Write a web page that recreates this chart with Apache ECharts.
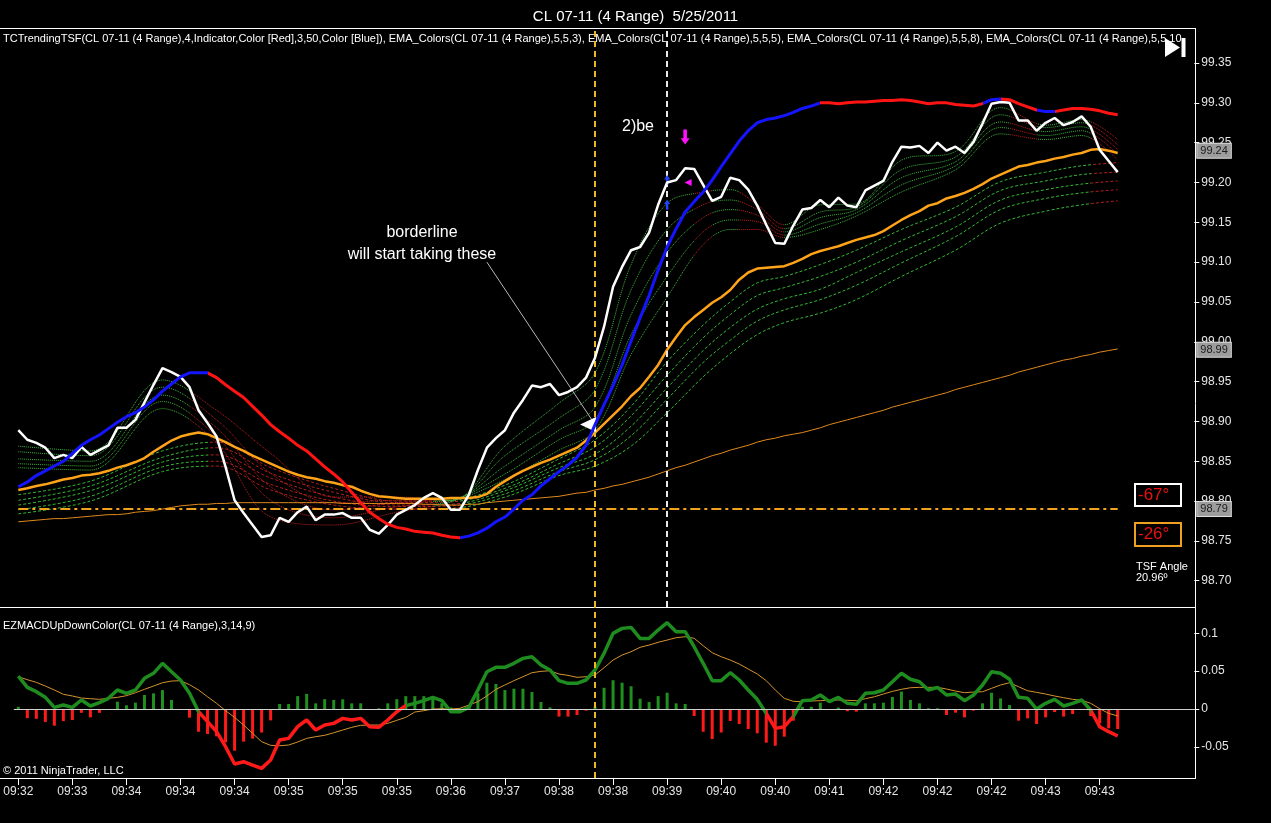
<!DOCTYPE html>
<html><head><meta charset="utf-8">
<script src="https://cdn.jsdelivr.net/npm/echarts/dist/echarts.min.js"></script>
<style>html,body{margin:0;padding:0;background:#000;}#c{width:1271px;height:823px;}</style>
</head><body><div id="c"></div>
<script>
const chartTitle = 'CL 07-11 (4 Range)  5/25/2011';
const priceLegend = 'TCTrendingTSF(CL 07-11 (4 Range),4,Indicator,Color [Red],3,50,Color [Blue]), EMA_Colors(CL 07-11 (4 Range),5,5,3), EMA_Colors(CL 07-11 (4 Range),5,5,5), EMA_Colors(CL 07-11 (4 Range),5,5,8), EMA_Colors(CL 07-11 (4 Range),5,5,10';
const macdLegend = 'EZMACDUpDownColor(CL 07-11 (4 Range),3,14,9)';
const copyright = '\u00a9 2011 NinjaTrader, LLC';
const timeLabels = ['09:32','09:33','09:34','09:34','09:34','09:35','09:35','09:35','09:36','09:37','09:38','09:38','09:39','09:40','09:40','09:41','09:42','09:42','09:42','09:43','09:43'];
const labelEvery = 6;

const closeData = [98.889,98.877,98.873,98.867,98.854,98.858,98.854,98.868,98.858,98.864,
98.870,98.892,98.892,98.902,98.924,98.946,98.967,98.962,98.956,98.943,
98.914,98.898,98.881,98.843,98.801,98.785,98.770,98.755,98.757,98.779,
98.774,98.786,98.793,98.776,98.783,98.783,98.785,98.779,98.779,98.764,
98.759,98.770,98.783,98.789,98.795,98.804,98.810,98.804,98.789,98.789,
98.808,98.839,98.867,98.879,98.889,98.911,98.927,98.945,98.943,98.947,
98.933,98.937,98.943,98.955,98.980,99.019,99.069,99.094,99.115,99.119,
99.137,99.172,99.200,99.203,99.218,99.217,99.197,99.177,99.182,99.206,
99.203,99.191,99.171,99.147,99.124,99.123,99.146,99.166,99.168,99.178,
99.169,99.181,99.171,99.169,99.190,99.196,99.202,99.226,99.245,99.244,
99.246,99.237,99.250,99.240,99.245,99.237,99.251,99.274,99.299,99.301,
99.300,99.278,99.278,99.265,99.275,99.281,99.272,99.276,99.283,99.270,
99.241,99.227,99.213];

const tsfData = [98.818,98.824,98.832,98.838,98.844,98.850,98.860,98.870,98.877,98.883,
98.891,98.899,98.906,98.911,98.918,98.927,98.938,98.947,98.956,98.961,
98.961,98.961,98.955,98.946,98.938,98.930,98.919,98.908,98.896,98.887,
98.879,98.870,98.863,98.853,98.843,98.834,98.824,98.811,98.798,98.786,
98.778,98.771,98.767,98.765,98.762,98.761,98.760,98.757,98.755,98.754,
98.756,98.760,98.766,98.774,98.780,98.790,98.801,98.808,98.819,98.828,
98.837,98.845,98.855,98.870,98.896,98.921,98.945,98.971,99.001,99.030,
99.058,99.090,99.119,99.142,99.163,99.176,99.188,99.203,99.220,99.236,
99.252,99.265,99.275,99.279,99.281,99.284,99.288,99.293,99.296,99.300,
99.300,99.299,99.300,99.301,99.301,99.302,99.303,99.303,99.304,99.303,
99.301,99.299,99.300,99.300,99.298,99.297,99.296,99.299,99.304,99.305,
99.304,99.299,99.295,99.291,99.289,99.289,99.291,99.293,99.293,99.292,
99.290,99.287,99.285];
const tsfDownRanges = [[21,49],[89,107],[109,113],[115,122]];

const orangeEma = [98.814,98.816,98.819,98.821,98.824,98.827,98.829,98.832,98.833,98.835,
98.838,98.842,98.845,98.849,98.854,98.862,98.869,98.876,98.881,98.884,
98.886,98.884,98.879,98.874,98.868,98.863,98.857,98.852,98.847,98.842,
98.837,98.833,98.830,98.828,98.825,98.823,98.820,98.818,98.813,98.809,
98.806,98.805,98.804,98.803,98.803,98.803,98.803,98.803,98.804,98.804,
98.804,98.805,98.809,98.818,98.825,98.832,98.838,98.843,98.848,98.852,
98.857,98.862,98.867,98.876,98.886,98.897,98.908,98.919,98.932,98.942,
98.956,98.971,98.990,99.006,99.021,99.031,99.040,99.049,99.056,99.065,
99.078,99.087,99.092,99.093,99.094,99.095,99.099,99.104,99.110,99.114,
99.117,99.120,99.124,99.128,99.131,99.134,99.139,99.146,99.153,99.159,
99.164,99.171,99.174,99.180,99.183,99.187,99.192,99.198,99.205,99.210,
99.215,99.220,99.222,99.225,99.227,99.230,99.232,99.235,99.237,99.241,
99.242,99.240,99.237];

const longEma = [98.774,98.775,98.776,98.777,98.778,98.778,98.779,98.780,98.781,98.782,
98.783,98.783,98.784,98.786,98.787,98.788,98.790,98.792,98.794,98.795,
98.796,98.796,98.797,98.797,98.798,98.798,98.798,98.798,98.798,98.798,
98.798,98.798,98.798,98.798,98.798,98.798,98.797,98.797,98.797,98.797,
98.797,98.797,98.797,98.797,98.797,98.796,98.796,98.795,98.795,98.795,
98.796,98.796,98.798,98.799,98.800,98.801,98.802,98.803,98.804,98.805,
98.806,98.808,98.810,98.811,98.814,98.816,98.819,98.821,98.824,98.827,
98.830,98.834,98.838,98.842,98.845,98.849,98.853,98.857,98.860,98.864,
98.867,98.870,98.874,98.877,98.879,98.882,98.884,98.886,98.889,98.892,
98.896,98.899,98.902,98.905,98.908,98.911,98.914,98.918,98.921,98.924,
98.927,98.930,98.933,98.936,98.940,98.943,98.946,98.949,98.952,98.955,
98.958,98.962,98.965,98.968,98.971,98.974,98.977,98.979,98.982,98.984,
98.987,98.989,98.991];

const hLineLevel = 98.79;

// EMA ribbons, read at these bars
const ribbonBars = [0,8,16,22,28,35,42,48,54,60,64,68,72,76,79,82,85,89,93,98,104,109,114,118,122];
const fastEma1 = [98.869,98.863,98.952,98.914,98.860,98.805,98.805,98.801,98.869,98.923,98.961,99.097,99.174,99.188,99.191,99.172,99.147,99.172,99.173,99.228,99.239,99.294,99.272,99.279,99.254];
const fastEma2 = [98.862,98.857,98.943,98.902,98.835,98.798,98.801,98.801,98.857,98.904,98.940,99.065,99.141,99.172,99.178,99.166,99.142,99.163,99.169,99.216,99.232,99.285,99.269,99.275,99.247];
const fastEma3 = [98.853,98.850,98.933,98.892,98.818,98.789,98.798,98.801,98.844,98.889,98.918,99.034,99.112,99.156,99.166,99.159,99.138,99.156,99.166,99.206,99.226,99.276,99.264,99.270,99.241];
const fastEma4 = [98.847,98.844,98.925,98.881,98.801,98.779,98.793,98.800,98.834,98.877,98.902,99.009,99.082,99.138,99.153,99.151,99.134,99.148,99.162,99.197,99.221,99.269,99.259,99.265,99.235];
const fastEma5 = [98.842,98.839,98.916,98.873,98.780,98.770,98.786,98.799,98.827,98.864,98.889,98.984,99.056,99.122,99.141,99.141,99.131,99.141,99.158,99.188,99.216,99.261,99.254,99.259,99.228];
const slowEma1 = [98.808,98.825,98.863,98.874,98.842,98.816,98.800,98.801,98.820,98.853,98.877,98.919,98.975,99.021,99.050,99.074,99.082,99.097,99.115,99.141,99.169,99.201,99.213,99.221,99.225];
const slowEma2 = [98.801,98.819,98.855,98.867,98.835,98.811,98.798,98.799,98.816,98.847,98.868,98.907,98.958,99.005,99.034,99.058,99.068,99.082,99.100,99.127,99.157,99.190,99.202,99.210,99.213];
const slowEma3 = [98.795,98.813,98.849,98.858,98.829,98.805,98.795,98.796,98.813,98.842,98.859,98.894,98.942,98.989,99.018,99.041,99.054,99.066,99.087,99.113,99.144,99.178,99.191,99.198,99.202];
const slowEma4 = [98.789,98.806,98.843,98.850,98.821,98.800,98.793,98.794,98.809,98.837,98.852,98.882,98.928,98.974,99.002,99.026,99.040,99.053,99.071,99.099,99.132,99.166,99.180,99.187,99.191];
const slowEma5 = [98.784,98.800,98.837,98.844,98.814,98.795,98.790,98.791,98.805,98.832,98.844,98.869,98.911,98.956,98.985,99.009,99.024,99.036,99.053,99.082,99.115,99.149,99.164,99.172,99.177];
const fastFallRanges = [[19,46],[75,77],[80,85],[110,113],[119,122]];
const slowFallRanges = [[21,49],[119,122]];

const macdData = [0.0435,0.0286,0.0229,0.0154,0.0022,0.0053,0.0022,0.0119,0.0040,0.0084,
0.0141,0.0251,0.0207,0.0251,0.0405,0.0471,0.0603,0.0492,0.0383,0.0207,
-0.0035,-0.0167,-0.0299,-0.0497,-0.0726,-0.0695,-0.0739,-0.0783,-0.0673,-0.0409,
-0.0387,-0.0233,-0.0145,-0.0277,-0.0211,-0.0189,-0.0123,-0.0145,-0.0123,-0.0233,
-0.0242,-0.0145,-0.0035,0.0045,0.0075,0.0110,0.0154,0.0110,-0.0035,-0.0035,
0.0022,0.0251,0.0492,0.0550,0.0550,0.0603,0.0668,0.0690,0.0580,0.0515,
0.0374,0.0339,0.0339,0.0383,0.0515,0.0734,0.0998,0.1064,0.1077,0.0932,
0.0932,0.1042,0.1139,0.1020,0.1020,0.0822,0.0603,0.0374,0.0374,0.0479,
0.0383,0.0251,0.0128,-0.0057,-0.0255,-0.0233,-0.0101,0.0110,0.0119,0.0185,
0.0097,0.0154,0.0075,0.0062,0.0207,0.0215,0.0251,0.0360,0.0471,0.0392,
0.0360,0.0251,0.0286,0.0185,0.0198,0.0110,0.0185,0.0317,0.0492,0.0471,
0.0392,0.0154,0.0141,0.0000,0.0075,0.0128,0.0040,0.0075,0.0119,-0.0013,
-0.0233,-0.0299,-0.0356];
const macdDownRanges = [[20,43],[83,86],[119,122]];

const signalData = [0.0426,0.0387,0.0352,0.0303,0.0251,0.0194,0.0172,0.0145,0.0136,0.0128,
0.0141,0.0154,0.0176,0.0215,0.0260,0.0303,0.0347,0.0369,0.0374,0.0321,
0.0251,0.0162,0.0075,-0.0022,-0.0110,-0.0211,-0.0321,-0.0431,-0.0479,-0.0484,
-0.0475,-0.0435,-0.0387,-0.0365,-0.0347,-0.0313,-0.0277,-0.0242,-0.0215,-0.0211,
-0.0211,-0.0189,-0.0149,-0.0110,-0.0040,-0.0022,0.0000,0.0004,0.0000,0.0009,
0.0053,0.0097,0.0172,0.0260,0.0317,0.0374,0.0426,0.0479,0.0497,0.0505,
0.0462,0.0444,0.0418,0.0426,0.0449,0.0545,0.0646,0.0712,0.0756,0.0814,
0.0844,0.0880,0.0910,0.0941,0.0954,0.0933,0.0835,0.0743,0.0690,0.0646,
0.0594,0.0528,0.0462,0.0374,0.0251,0.0141,0.0102,0.0097,0.0106,0.0110,
0.0115,0.0119,0.0115,0.0110,0.0136,0.0162,0.0198,0.0233,0.0260,0.0281,
0.0286,0.0286,0.0286,0.0264,0.0237,0.0215,0.0224,0.0228,0.0273,0.0317,
0.0347,0.0294,0.0241,0.0220,0.0198,0.0172,0.0149,0.0128,0.0115,0.0075,
0.0004,-0.0057,-0.0092];

const histData = [0.003,-0.012,-0.013,-0.017,-0.022,-0.016,-0.0145,-0.005,-0.011,-0.005,
0.000,0.0097,0.005,0.0084,0.0185,0.0207,0.025,0.012,0.000,-0.0114,
-0.030,-0.033,-0.036,-0.044,-0.055,-0.043,-0.039,-0.031,-0.015,0.0066,
0.0066,0.017,0.020,0.0075,0.013,0.012,0.0128,0.0075,0.0075,0.000,
0.001,0.0075,0.013,0.017,0.017,0.017,0.0154,0.0075,0.002,0.001,
0.005,0.0207,0.0347,0.033,0.025,0.0268,0.0268,0.0224,0.0092,0.0022,
-0.010,-0.010,-0.0079,-0.0022,0.003,0.028,0.038,0.0347,0.030,0.0136,
0.0092,0.017,0.0215,0.0075,0.0066,-0.0092,-0.030,-0.0396,-0.031,-0.0158,
-0.0198,-0.0264,-0.032,-0.0444,-0.0484,-0.0365,-0.0154,0.003,0.003,0.0084,
0.000,0.002,-0.003,-0.0035,0.0075,0.0075,0.0084,0.016,0.023,0.012,
0.0075,0.001,0.001,-0.0079,-0.0048,-0.011,-0.0022,0.0075,0.0215,0.014,
0.0053,-0.0154,-0.0123,-0.0198,-0.011,-0.004,-0.010,-0.0066,0.000,-0.0092,
-0.019,-0.0255,-0.0264];

// marked bars
const signalBar = 64;   // yellow vertical
const entryBar = 72;    // white vertical

// ---------------- build ----------------
const N_SLOTS = 131;
const cats = Array.from({length: N_SLOTS}, (_, i) => String(i));
const showIdx = (i) => i % labelEvery === 0 && i / labelEvery < timeLabels.length;

function rangesToPieces(ranges, up, down) {
  const pieces = []; let prev = -1;
  ranges.forEach(([a, b]) => {
    pieces.push({gt: prev, lte: a, color: up});
    pieces.push({gt: a, lte: b, color: down});
    prev = b;
  });
  pieces.push({gt: prev, lte: N_SLOTS + 5, color: up});
  return pieces;
}

const FONT = '"Liberation Sans", Arial, sans-serif';
const ribbonPts = (arr) => ribbonBars.map((b, i) => [b, arr[i]]);
function ribbon(arr, type) {
  return {type: 'line', xAxisIndex: 0, yAxisIndex: 0, data: ribbonPts(arr), showSymbol: false,
    smooth: 0.35, silent: true, lineStyle: {width: 1, type: type}, z: 2};
}
const dashedLower = [3, 2];
const tagLabel = {show: true, position: 'end', distance: 3, formatter: (p) => p.value.toFixed(2),
  backgroundColor: '#9c9c9c', color: '#1a1a1a', fontSize: 11, fontFamily: FONT,
  padding: [2, 3, 1, 3], borderColor: '#dddddd', borderWidth: 1};
const series = [
  ribbon(slowEma1, dashedLower), ribbon(slowEma2, dashedLower), ribbon(slowEma3, dashedLower),
  ribbon(slowEma4, dashedLower), ribbon(slowEma5, dashedLower),
  ribbon(fastEma1, 'dotted'), ribbon(fastEma2, 'dotted'), ribbon(fastEma3, 'dotted'),
  ribbon(fastEma4, 'dotted'), ribbon(fastEma5, 'dotted'),
  {type: 'line', name: 'EMA long', xAxisIndex: 0, yAxisIndex: 0, data: longEma, showSymbol: false, silent: true,
    lineStyle: {width: 1, color: '#e0891c'}, z: 3},
  {type: 'line', name: 'EMA', xAxisIndex: 0, yAxisIndex: 0, data: orangeEma, showSymbol: false, silent: true, clip: false,
    lineStyle: {width: 2.5, color: '#ffa319'}, z: 4,
    markLine: {silent: true, symbol: 'none', z: 10,
      label: tagLabel,
      lineStyle: {color: 'rgba(0,0,0,0)', width: 1, type: 'solid'},
      data: [{yAxis: orangeEma[orangeEma.length - 1]}, {yAxis: longEma[longEma.length - 1]}, {yAxis: hLineLevel}]}},
  {type: 'line', name: 'Close', xAxisIndex: 0, yAxisIndex: 0, data: closeData, showSymbol: false, silent: true,
    lineStyle: {width: 2.5, color: '#ffffff'}, z: 5,
    markLine: {silent: true, symbol: 'none', label: {show: false},
      data: [
        [{coord: [0, hLineLevel], lineStyle: {color: '#f2a31e', width: 2, type: [10, 4, 3, 4]}},
         {coord: [closeData.length - 1, hLineLevel]}],
        {xAxis: signalBar, lineStyle: {color: '#e8b923', width: 2, type: [6, 4]}},
        {xAxis: entryBar, lineStyle: {color: '#e8e8e8', width: 2, type: [6, 4]}},
        [{coord: [52, 99.100], lineStyle: {color: '#b8b8b8', width: 1, type: 'solid'}},
         {coord: [64, 98.896]}]
      ]},
    markPoint: {silent: true, label: {show: false},
      data: [
        {coord: [64, 98.896], symbol: 'triangle', symbolRotate: 90, symbolSize: [15, 16], symbolOffset: [-7, 0], itemStyle: {color: '#ffffff'}},
        {coord: [74, 99.257], symbol: 'path://M3,0L7,0L7,8L10,8L5,14L0,8L3,8Z', symbolSize: [9, 15], itemStyle: {color: '#ff10ff'}},
        {coord: [74, 99.200], symbol: 'triangle', symbolRotate: 90, symbolSize: [7, 7], symbolOffset: [3, 0], itemStyle: {color: '#ff10ff'}},
        {coord: [72, 99.203], symbol: 'path://M5,0L10,6L7,6L7,14L3,14L3,6L0,6Z', symbolSize: [6, 10], itemStyle: {color: '#2244ff'}},
        {coord: [72, 99.172], symbol: 'path://M5,0L10,6L7,6L7,14L3,14L3,6L0,6Z', symbolSize: [6, 10], itemStyle: {color: '#2244ff'}}
      ]}},
  {type: 'line', name: 'TSF', xAxisIndex: 0, yAxisIndex: 0, data: tsfData, showSymbol: false, silent: true,
    lineStyle: {width: 3}, z: 6},
  {type: 'bar', name: 'Diff', xAxisIndex: 1, yAxisIndex: 1, data: histData, barWidth: 3, silent: true,
    itemStyle: {color: (p) => p.value >= 0 ? '#1f8f1f' : '#ff1a1a'}, z: 2,
    markLine: {silent: true, symbol: 'none', label: {show: false},
      data: [
        {yAxis: 0, lineStyle: {color: '#cfcfcf', width: 1, type: 'solid'}},
        {xAxis: signalBar, lineStyle: {color: '#e8b923', width: 2, type: [6, 4]}}
      ]}},
  {type: 'line', name: 'Avg', xAxisIndex: 1, yAxisIndex: 1, data: signalData, showSymbol: false, silent: true,
    lineStyle: {width: 1, color: '#d4932f'}, z: 3},
  {type: 'line', name: 'MACD', xAxisIndex: 1, yAxisIndex: 1, data: macdData, showSymbol: false, silent: true,
    lineStyle: {width: 3.5}, z: 4}
];

const gridL = 13.8, gridW = 1180.5;
const option = {
  backgroundColor: '#000000',
  animation: false,
  textStyle: {fontFamily: FONT},
  title: {text: chartTitle, left: 'center', top: 4,
    textStyle: {color: '#ffffff', fontSize: 15, fontWeight: 'normal', fontFamily: FONT}},
  grid: [
    {left: gridL, width: gridW, top: 28, height: 579},
    {left: gridL, width: gridW, top: 607, height: 171}
  ],
  xAxis: [
    {type: 'category', gridIndex: 0, data: cats, boundaryGap: true, show: false},
    {type: 'category', gridIndex: 1, data: cats, boundaryGap: true, position: 'bottom',
      axisLine: {show: false, onZero: false},
      axisTick: {show: true, interval: (i) => showIdx(i), alignWithLabel: true, length: 7, lineStyle: {color: '#ffffff'}},
      axisLabel: {interval: (i) => showIdx(i), color: '#e6e6e6', fontSize: 12, margin: 8, fontFamily: FONT,
        formatter: (v, i) => showIdx(i) ? timeLabels[i / labelEvery] : ''}}
  ],
  yAxis: [
    {type: 'value', gridIndex: 0, position: 'right', min: 98.667, max: 99.394, splitNumber: 14,
      splitLine: {show: false}, axisLine: {show: false},
      axisTick: {show: true, length: 5, lineStyle: {color: '#ffffff'}},
      axisLabel: {color: '#e6e6e6', fontSize: 12, margin: 7, fontFamily: FONT, showMinLabel: false, showMaxLabel: false,
        formatter: (v) => v.toFixed(2)}},
    {type: 'value', gridIndex: 1, position: 'right', min: -0.091, max: 0.1346, splitNumber: 4,
      splitLine: {show: false}, axisLine: {show: false},
      axisTick: {show: true, length: 5, lineStyle: {color: '#ffffff'}},
      axisLabel: {color: '#e6e6e6', fontSize: 12, margin: 7, fontFamily: FONT, showMinLabel: false, showMaxLabel: false,
        formatter: (v) => Math.abs(v) < 1e-9 ? '0' : String(parseFloat(v.toFixed(2)))}}
  ],
  visualMap: [
    {type: 'piecewise', show: false, dimension: 0, seriesIndex: [0, 1, 2, 3, 4], pieces: rangesToPieces(slowFallRanges, '#35b535', '#b01e1e')},
    {type: 'piecewise', show: false, dimension: 0, seriesIndex: [5, 6, 7, 8, 9], pieces: rangesToPieces(fastFallRanges, '#3cb43c', '#c01c1c')},
    {type: 'piecewise', show: false, dimension: 0, seriesIndex: 13, pieces: rangesToPieces(tsfDownRanges, '#1414ff', '#ff1414')},
    {type: 'piecewise', show: false, dimension: 0, seriesIndex: 16, pieces: rangesToPieces(macdDownRanges, '#1e8c1e', '#ff1a1a')}
  ],
  graphic: [
    {type: 'line', silent: true, shape: {x1: 0, y1: 28.5, x2: 1196, y2: 28.5}, style: {stroke: '#ffffff', lineWidth: 1}},
    {type: 'line', silent: true, shape: {x1: 0, y1: 607.5, x2: 1196, y2: 607.5}, style: {stroke: '#ffffff', lineWidth: 1}},
    {type: 'line', silent: true, shape: {x1: 0, y1: 778.5, x2: 1196, y2: 778.5}, style: {stroke: '#ffffff', lineWidth: 1}},
    {type: 'line', silent: true, shape: {x1: 1195.5, y1: 28, x2: 1195.5, y2: 779}, style: {stroke: '#ffffff', lineWidth: 1}},
    {type: 'text', silent: true, x: 3, y: 39, style: {text: priceLegend, fill: '#ffffff', font: '11px ' + FONT, textVerticalAlign: 'middle'}},
    {type: 'text', silent: true, x: 3, y: 626, style: {text: macdLegend, fill: '#ffffff', font: '11px ' + FONT, textVerticalAlign: 'middle'}},
    {type: 'text', silent: true, x: 3, y: 771, style: {text: copyright, fill: '#ffffff', font: '11px ' + FONT, textVerticalAlign: 'middle'}},
    {type: 'polygon', silent: true, shape: {points: [[1165, 38], [1180, 47.5], [1165, 57]]}, style: {fill: '#ffffff'}},
    {type: 'rect', silent: true, shape: {x: 1181.5, y: 38, width: 4, height: 19}, style: {fill: '#ffffff'}},
    {type: 'text', silent: true, x: 422, y: 233, style: {text: 'borderline', fill: '#ffffff', font: '16px ' + FONT, textAlign: 'center', textVerticalAlign: 'middle'}},
    {type: 'text', silent: true, x: 422, y: 255, style: {text: 'will start taking these', fill: '#ffffff', font: '16px ' + FONT, textAlign: 'center', textVerticalAlign: 'middle'}},
    {type: 'text', silent: true, x: 638, y: 127, style: {text: '2)be', fill: '#ffffff', font: '16px ' + FONT, textAlign: 'center', textVerticalAlign: 'middle'}},
    {type: 'rect', silent: true, shape: {x: 1135, y: 484, width: 46, height: 22}, style: {fill: 'none', stroke: '#ffffff', lineWidth: 2}},
    {type: 'text', silent: true, x: 1138, y: 495, style: {text: '-67\u00b0', fill: '#e81010', font: '17px ' + FONT, textVerticalAlign: 'middle'}},
    {type: 'rect', silent: true, shape: {x: 1135, y: 523, width: 46, height: 23}, style: {fill: 'none', stroke: '#f0a020', lineWidth: 2}},
    {type: 'text', silent: true, x: 1138, y: 534, style: {text: '-26\u00b0', fill: '#e81010', font: '17px ' + FONT, textVerticalAlign: 'middle'}},
    {type: 'text', silent: true, x: 1136, y: 567, style: {text: 'TSF Angle', fill: '#ffffff', font: '11px ' + FONT, textVerticalAlign: 'middle'}},
    {type: 'text', silent: true, x: 1136, y: 578, style: {text: '20.96\u00ba', fill: '#ffffff', font: '11px ' + FONT, textVerticalAlign: 'middle'}}
  ],
  series: series
};

const chart = echarts.init(document.getElementById('c'), null, {renderer: 'canvas'});
chart.setOption(option);
</script>
</body></html>
